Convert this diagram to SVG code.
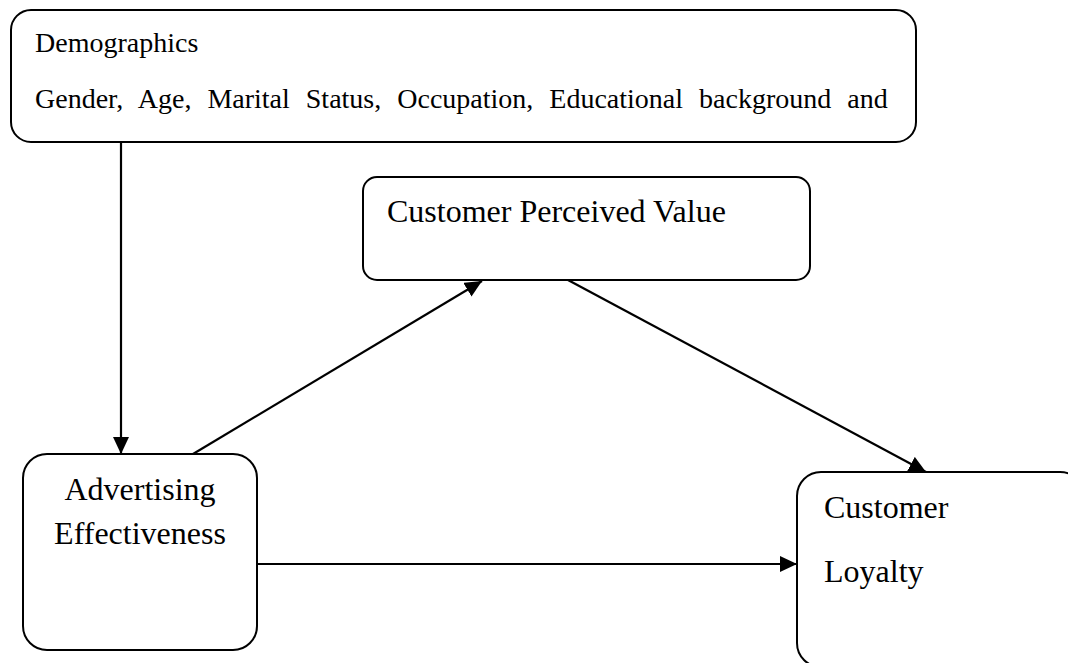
<svg xmlns="http://www.w3.org/2000/svg" width="1068" height="663" viewBox="0 0 1068 663">
<defs>
<marker id="ah" viewBox="0 0 17 16" refX="17" refY="8" markerWidth="17" markerHeight="16" markerUnits="userSpaceOnUse" orient="auto">
<path d="M0,0 L17,8 L0,16 Z" fill="#000"/>
</marker>
<style>
.box{fill:#fff;stroke:#000;stroke-width:2}
.t{font-family:"Liberation Serif","Times New Roman",serif;fill:#000}
.c{stroke:#000;stroke-width:2.2;fill:none;marker-end:url(#ah)}
</style>
</defs>
<rect width="1068" height="663" fill="#fff"/>
<g id="demographics">
<rect class="box" x="11" y="10" width="905" height="132" rx="20"/>
<text class="t" x="35" y="52" font-size="28">Demographics</text>
<text class="t" x="35" y="108" font-size="28" word-spacing="9">Gender, Age, Marital Status, Occupation, Educational background and</text>
</g>
<g id="perceived-value">
<rect class="box" x="363" y="177" width="447" height="103" rx="14"/>
<text class="t" x="387" y="222" font-size="32">Customer Perceived Value</text>
</g>
<g id="advertising">
<rect class="box" x="23" y="454" width="234" height="196" rx="24"/>
<text class="t" x="140" y="500" font-size="32" text-anchor="middle">Advertising</text>
<text class="t" x="140" y="544" font-size="32" text-anchor="middle">Effectiveness</text>
</g>
<g id="loyalty">
<rect class="box" x="797" y="472" width="287" height="195" rx="24"/>
<text class="t" x="824" y="518" font-size="32">Customer</text>
<text class="t" x="824" y="582" font-size="32">Loyalty</text>
</g>
<g id="connectors">
<line class="c" x1="121" y1="142" x2="121" y2="454"/>
<line class="c" x1="193" y1="454" x2="482" y2="281"/>
<line class="c" x1="568" y1="280" x2="926" y2="472"/>
<line class="c" x1="257" y1="564" x2="797" y2="564"/>
</g>
</svg>
